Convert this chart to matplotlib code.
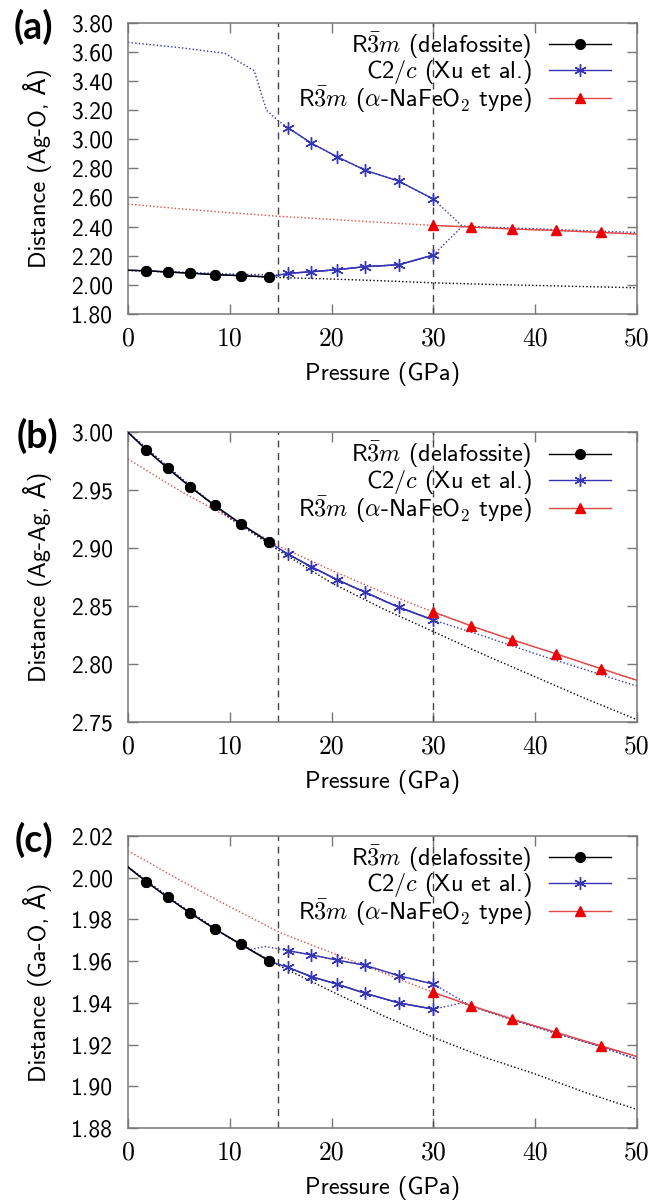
import matplotlib
matplotlib.use("Agg")
import matplotlib.pyplot as plt

plt.rcParams['mathtext.fontset'] = 'cm'

# pressures (GPa) of the calculated points
P_DEL = [1.8, 3.9, 6.1, 8.5, 11.1, 13.9]
P_C2C = [15.7, 18.0, 20.5, 23.3, 26.6, 30.0]
P_NAFE = [30.0, 33.7, 37.7, 42.0, 46.5]
P_FIT = [0, 5, 10, 15, 20, 25, 30, 35, 40, 45, 50]
TRANSITIONS = [14.7, 30.0]
X_TICKS = [0, 10, 20, 30, 40, 50]

# (a) Ag-O
a_del = [2.097, 2.088, 2.081, 2.070, 2.063, 2.054]
a_c2c_hi = [3.080, 2.973, 2.881, 2.787, 2.712, 2.589]
a_c2c_lo = [2.079, 2.090, 2.104, 2.125, 2.138, 2.205]
a_nafe = [2.408, 2.397, 2.383, 2.374, 2.360]
a_ends = [2.100, 2.349]  # solid lines at P=0 and P=50
a_fit_del = [2.100, 2.085, 2.068, 2.050, 2.040, 2.028, 2.014, 2.004, 1.996, 1.988, 1.980]
a_fit_nafe = [2.555, 2.523, 2.495, 2.470, 2.450, 2.428, 2.408, 2.393, 2.379, 2.364, 2.349]
a_fit_hi_x = [0, 5, 9.5, 12.4, 13.6, 14.7, 15.7, 18.0, 20.5, 23.3, 26.6, 30.0, 32.8, 35, 40, 45, 50]
a_fit_hi = [3.665, 3.630, 3.590, 3.470, 3.200, 3.130, 3.080, 2.973, 2.881, 2.787, 2.712, 2.589,
            2.405, 2.397, 2.385, 2.372, 2.360]
a_fit_lo_x = [0, 5, 10, 14.7, 15.7, 18.0, 20.5, 23.3, 26.6, 30.0, 32.8]
a_fit_lo = [2.100, 2.088, 2.075, 2.068, 2.079, 2.090, 2.104, 2.125, 2.138, 2.205, 2.400]
a_yticks = [1.80, 2.00, 2.20, 2.40, 2.60, 2.80, 3.00, 3.20, 3.40, 3.60, 3.80]

# (b) Ag-Ag
b_del = [2.985, 2.969, 2.953, 2.937, 2.921, 2.905]
b_c2c = [2.895, 2.884, 2.873, 2.862, 2.849, 2.838]
b_nafe = [2.845, 2.833, 2.821, 2.809, 2.796]
b_ends = [3.000, 2.786]
b_fit_del = [3.000, 2.962, 2.926, 2.897, 2.870, 2.848, 2.828, 2.808, 2.789, 2.770, 2.752]
b_fit_nafe = [2.977, 2.950, 2.926, 2.901, 2.881, 2.862, 2.845, 2.829, 2.815, 2.800, 2.786]
b_fit_c2c = [3.000, 2.962, 2.926, 2.898, 2.875, 2.855, 2.838, 2.824, 2.809, 2.795, 2.781]
b_yticks = [2.75, 2.80, 2.85, 2.90, 2.95, 3.00]

# (c) Ga-O
c_del = [1.998, 1.9905, 1.983, 1.9755, 1.968, 1.960]
c_c2c_hi = [1.965, 1.963, 1.9605, 1.958, 1.953, 1.949]
c_c2c_lo = [1.957, 1.9526, 1.949, 1.9446, 1.940, 1.937]
c_nafe = [1.945, 1.9387, 1.9323, 1.926, 1.9194]
c_ends = [2.005, 1.9143]
c_fit_del = [2.005, 1.987, 1.971, 1.9575, 1.9455, 1.934, 1.9235, 1.914, 1.906, 1.897, 1.889]
c_fit_nafe = [2.0128, 1.999, 1.986, 1.9735, 1.964, 1.9545, 1.945, 1.9367, 1.929, 1.9215, 1.9143]
c_fit_hi_x = [0, 5, 10, 12, 13.5, 15.7, 18.0, 20.5, 23.3, 26.6, 30.0, 33.7, 37.7, 42.0, 46.5, 50]
c_fit_hi = [2.005, 1.987, 1.971, 1.9655, 1.967, 1.965, 1.963, 1.9605, 1.958, 1.953, 1.949,
            1.9385, 1.932, 1.9255, 1.919, 1.913]
c_fit_lo_x = [15.7, 18.0, 20.5, 23.3, 26.6, 30.0, 32.8, 37.7, 42.0, 46.5, 50]
c_fit_lo = [1.957, 1.9526, 1.949, 1.9446, 1.940, 1.937, 1.940, 1.932, 1.9255, 1.919, 1.913]
c_yticks = [1.88, 1.90, 1.92, 1.94, 1.96, 1.98, 2.00, 2.02]

LABELS = [r'R$\bar{\mathsf{3}}m$ (delafossite)',
          r'C2/$c$ (Xu et al.)',
          r'R$\bar{\mathsf{3}}m$ ($\alpha$-NaFeO$_\mathsf{2}$ type)']

BLACK = '#000000'
BLUE = '#3434b4'
RED = '#e04848'
RED_MK = '#ee0000'
DOT = (0, (1, 1.6))
SANS = ['cmss10', 'DejaVu Sans']


def draw_panel(ax, letter, ylabel, ylim, yticks, dele, ends, hi, lo, nafe,
               fit_del, fit_nafe, fit_hi, fit_lo):
    # dotted fitted curves
    ax.plot(P_FIT, fit_del, color=BLACK, ls=DOT, lw=1.0)
    ax.plot(P_FIT, fit_nafe, color=RED, ls=DOT, lw=1.0)
    ax.plot(fit_hi[0], fit_hi[1], color=BLUE, ls=DOT, lw=1.0)
    if fit_lo is not None:
        ax.plot(fit_lo[0], fit_lo[1], color=BLUE, ls=DOT, lw=1.0)

    for x in TRANSITIONS:
        ax.axvline(x, color='#444444', ls=(0, (5, 4)), lw=1.0)

    # calculated points
    l1, = ax.plot([0] + P_DEL, [ends[0]] + dele, color=BLACK, lw=1.0,
                  marker='o', ms=7, mfc=BLACK, mec=BLACK, markevery=list(range(1, 7)), zorder=4)
    ax.plot([0] + P_DEL + P_C2C, [ends[0]] + dele + lo, color=BLUE, lw=1.0, zorder=3)
    l2, = ax.plot(P_C2C, lo, color=BLUE, lw=1.0, marker=(6, 2, 0), ms=9, mew=1.0,
                  mec=BLUE, zorder=5)
    if hi is not None:
        ax.plot(P_C2C, hi, color=BLUE, lw=1.0, marker=(6, 2, 0), ms=9, mew=1.0,
                mec=BLUE, zorder=5)
    l3, = ax.plot(P_NAFE + [50], nafe + [ends[1]], color=RED, lw=1.0,
                  marker='^', ms=7, mfc=RED_MK, mec=RED_MK, markevery=list(range(5)), zorder=5)
    ax.plot(P_DEL, dele, ls='none', marker='o', ms=7, mfc=BLACK, mec=BLACK, zorder=6)

    ax.set_xlim(0, 50)
    ax.set_ylim(*ylim)
    ax.set_xticks(X_TICKS, labels=[str(t) for t in X_TICKS], fontfamily='cmr10', fontsize=18.5)
    ax.set_yticks(yticks, labels=['%.2f' % t for t in yticks], fontfamily=SANS, fontsize=17)
    ax.tick_params(direction='in', length=7, width=1.0, color='#777777',
                   top=True, right=True, pad=11)
    ax.tick_params(axis='x', pad=9)
    for s in ax.spines.values():
        s.set_color('#777777')
        s.set_linewidth(1.1)

    ax.set_xlabel('Pressure (GPa)', fontfamily=SANS, fontsize=17.5, va='center')
    ax.set_ylabel(ylabel, fontfamily=SANS, fontsize=17.5, va='center')
    h = ax.get_position().height * 1203
    ax.xaxis.set_label_coords(0.5, -60 / h)
    ax.yaxis.set_label_coords(-90 / 509, 0.5)

    leg = ax.legend([l1, l2, l3], LABELS, loc='upper right', bbox_to_anchor=(0.949, 0.975),
                    frameon=False, markerfirst=False, numpoints=1, handlelength=2.55,
                    handletextpad=0.7, labelspacing=-0.1, borderpad=0, borderaxespad=0,
                    prop={'family': SANS, 'size': 17.5})
    leg.set_zorder(10)


fig = plt.figure(figsize=(6.51, 12.03), dpi=100)
ax_a = fig.add_axes([0.1966, 0.7390, 0.7819, 0.2421])
ax_b = fig.add_axes([0.1966, 0.3998, 0.7819, 0.2408])
ax_c = fig.add_axes([0.1966, 0.0621, 0.7819, 0.2432])

draw_panel(ax_a, '(a)', 'Distance (Ag-O, Å)', (1.80, 3.80), a_yticks, a_del, a_ends,
           a_c2c_hi, a_c2c_lo, a_nafe, a_fit_del, a_fit_nafe,
           (a_fit_hi_x, a_fit_hi), (a_fit_lo_x, a_fit_lo))
draw_panel(ax_b, '(b)', 'Distance (Ag-Ag, Å)', (2.75, 3.00), b_yticks, b_del, b_ends,
           None, b_c2c, b_nafe, b_fit_del, b_fit_nafe, (P_FIT, b_fit_c2c), None)
draw_panel(ax_c, '(c)', 'Distance (Ga-O, Å)', (1.88, 2.02), c_yticks, c_del, c_ends,
           c_c2c_hi, c_c2c_lo, c_nafe, c_fit_del, c_fit_nafe,
           (c_fit_hi_x, c_fit_hi), (c_fit_lo_x, c_fit_lo))

for letter, (x, y) in zip(['(a)', '(b)', '(c)'], [(33, 27), (37, 436), (34, 840)]):
    fig.text(x / 651, 1 - y / 1203, letter, fontfamily='Lato', fontweight='bold',
             fontsize=27, ha='center', va='center')

fig.savefig('out.png', dpi=100)
